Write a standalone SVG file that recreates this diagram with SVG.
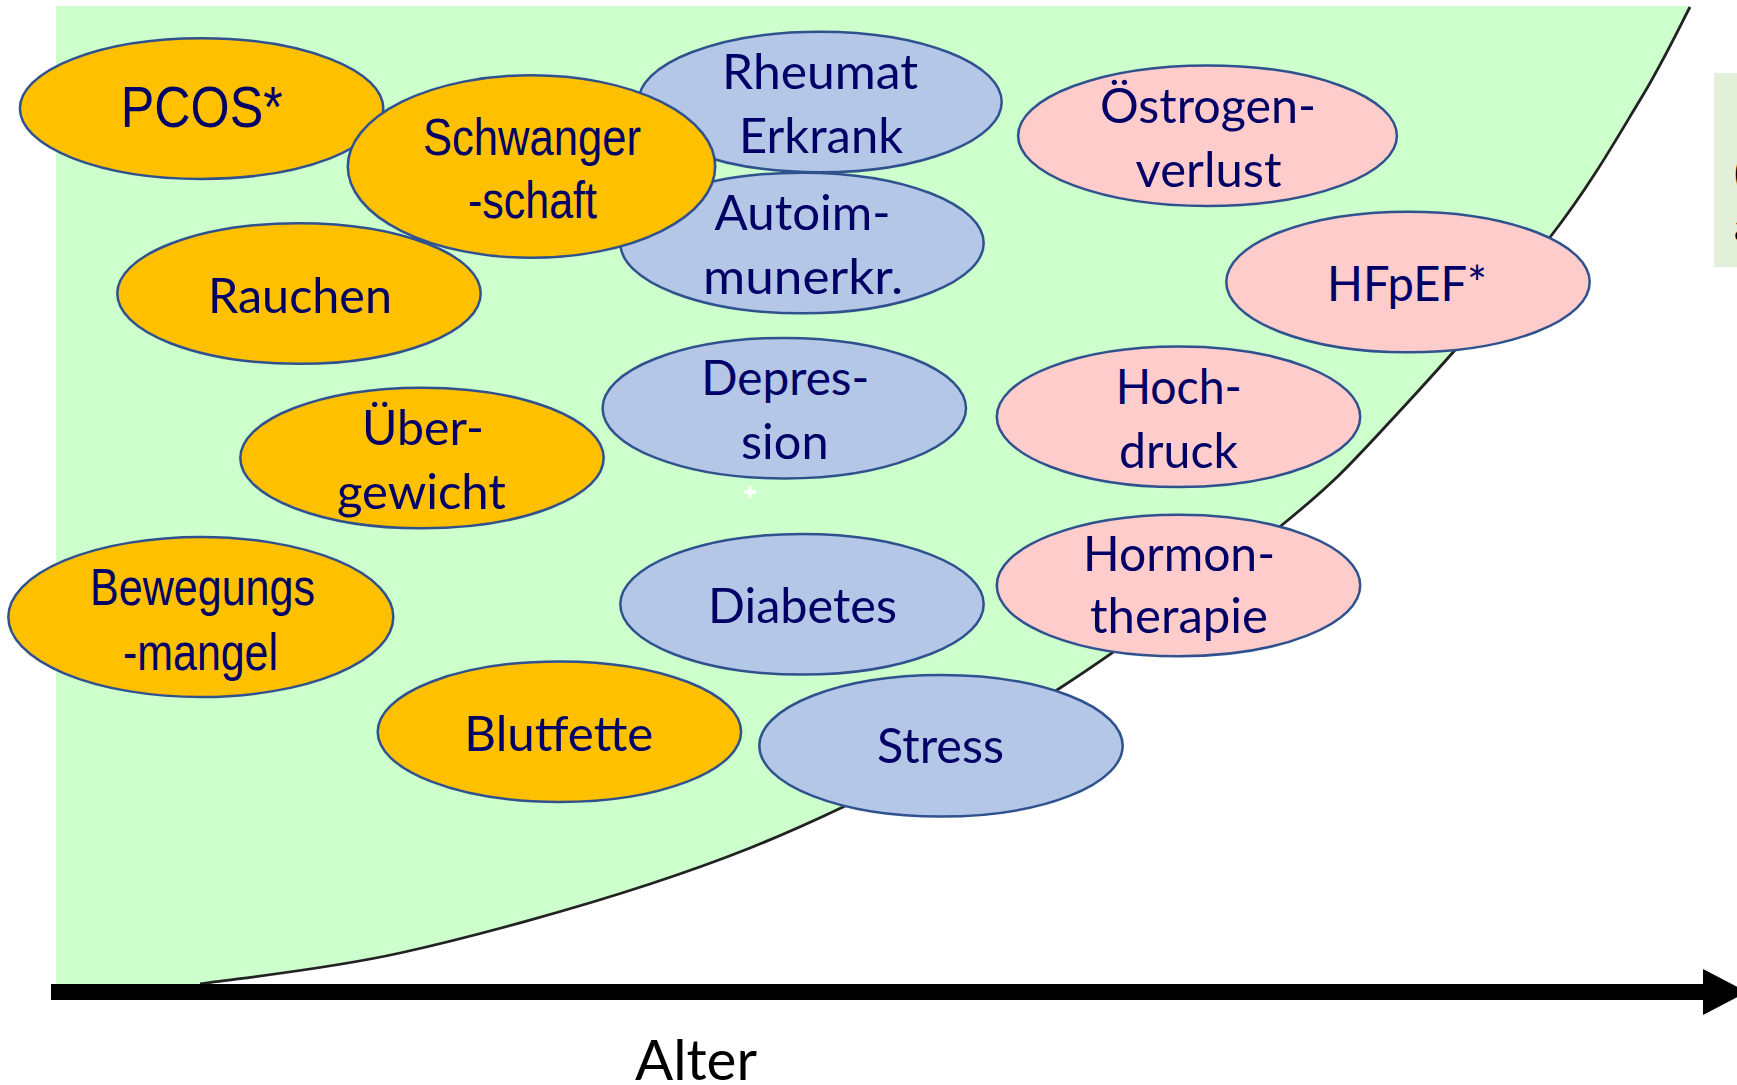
<svg xmlns="http://www.w3.org/2000/svg" width="1737" height="1085" viewBox="0 0 1737 1085">
<style>
.o{fill:#FFC000;stroke:#2F528F;stroke-width:2.5}
.b{fill:#B4C7E7;stroke:#2F528F;stroke-width:2.5}
.p{fill:#FFCCCC;stroke:#2F528F;stroke-width:2.5}
.t{font-family:Lato,"Open Sans",sans-serif;font-size:48px;fill:#000066;text-anchor:middle}
.n{font-family:"Liberation Sans",Arial,sans-serif;font-size:52px;fill:#000066;text-anchor:middle}
</style>
<defs>
<marker id="ah" markerUnits="userSpaceOnUse" markerWidth="50" markerHeight="50" refX="0" refY="25" orient="auto">
<path d="M0,2 L44,25 L0,48 Z" fill="#000"/>
</marker>
</defs>
<rect width="1737" height="1085" fill="#fff"/>
<g id="background">
<path d="M200,984 C233.3,978.8 325,969.7 400,953 C475,936.3 576.2,908.3 650,884 C723.8,859.7 775.2,839.3 843,807 C910.8,774.7 983.8,737 1057,690 C1130.2,643 1225.2,571.2 1282,525 C1338.8,478.8 1353.2,461.2 1398,413 C1442.8,364.8 1510.7,288.2 1551,236 C1591.3,183.8 1616.8,138.2 1640,100 C1663.2,61.8 1681.7,22.5 1690,7 L1690,6 L56,6 L56,985 L200,985 Z" fill="#CCFFCC"/>
<path d="M200,984 C233.3,978.8 325,969.7 400,953 C475,936.3 576.2,908.3 650,884 C723.8,859.7 775.2,839.3 843,807 C910.8,774.7 983.8,737 1057,690 C1130.2,643 1225.2,571.2 1282,525 C1338.8,478.8 1353.2,461.2 1398,413 C1442.8,364.8 1510.7,288.2 1551,236 C1591.3,183.8 1616.8,138.2 1640,100 C1663.2,61.8 1681.7,22.5 1690,7" fill="none" stroke="#222" stroke-width="2.8"/>
<path d="M744,492 H756 M750,486 V498" stroke="#fff" stroke-width="3"/>
<rect x="1714" y="73" width="30" height="194" fill="#E2F0D9"/>
<text x="1734" y="187" style="font-family:Lato,sans-serif;font-size:40px;fill:#000">(</text>
<text x="1734" y="241" style="font-family:Lato,sans-serif;font-size:40px;fill:#000">a</text>
</g>
<g id="connectors">
<line x1="51" y1="992" x2="1703" y2="992" stroke="#000" stroke-width="16" marker-end="url(#ah)"/>
</g>
<text x="696" y="1080" style="font-family:Lato,'Open Sans',sans-serif;font-size:56px;fill:#000;text-anchor:middle" textLength="122" lengthAdjust="spacingAndGlyphs">Alter</text>
<g id="pcos"><ellipse class="o" cx="201.6" cy="108.6" rx="181.7" ry="70.3"/><text class="n" x="201.8" y="127" style="font-size:58px" textLength="162" lengthAdjust="spacingAndGlyphs">PCOS*</text></g>
<g id="rheumat"><ellipse class="b" cx="820" cy="102" rx="181.7" ry="70.3"/><text class="t" x="820" y="89" textLength="196" lengthAdjust="spacingAndGlyphs">Rheumat</text><text class="t" x="821" y="153" textLength="164" lengthAdjust="spacingAndGlyphs">Erkrank</text></g>
<g id="autoim"><ellipse class="b" cx="802" cy="243" rx="181.7" ry="70.3"/><text class="t" x="802.6" y="230" textLength="176" lengthAdjust="spacingAndGlyphs">Autoim-</text><text class="t" x="803" y="294" textLength="200" lengthAdjust="spacingAndGlyphs">munerkr.</text></g>
<g id="rauchen"><ellipse class="o" cx="299" cy="293.5" rx="181.7" ry="70.3"/><text class="t" x="300" y="312.7" textLength="184" lengthAdjust="spacingAndGlyphs">Rauchen</text></g>
<g id="schwangerschaft"><ellipse class="o" cx="531.5" cy="166.5" rx="183.7" ry="91.3"/><text class="n" x="532" y="155" textLength="218" lengthAdjust="spacingAndGlyphs">Schwanger</text><text class="n" x="532.5" y="218" textLength="129" lengthAdjust="spacingAndGlyphs">-schaft</text></g>
<g id="oestrogenverlust"><ellipse class="p" cx="1207.5" cy="135.7" rx="189.4" ry="70.3"/><text class="t" x="1208" y="122.7" textLength="216" lengthAdjust="spacingAndGlyphs">Östrogen-</text><text class="t" x="1208.6" y="186.7" textLength="146" lengthAdjust="spacingAndGlyphs">verlust</text></g>
<g id="hfpef"><ellipse class="p" cx="1408" cy="282" rx="181.7" ry="70.3"/><text class="t" x="1407" y="301" textLength="160" lengthAdjust="spacingAndGlyphs">HFpEF*</text></g>
<g id="uebergewicht"><ellipse class="o" cx="422" cy="458" rx="181.7" ry="70.3"/><text class="t" x="423" y="445" textLength="122" lengthAdjust="spacingAndGlyphs">Über-</text><text class="t" x="421.4" y="509" textLength="169" lengthAdjust="spacingAndGlyphs">gewicht</text></g>
<g id="depression"><ellipse class="b" cx="784.3" cy="408.2" rx="181.7" ry="70.3"/><text class="t" x="785.3" y="395" textLength="168" lengthAdjust="spacingAndGlyphs">Depres-</text><text class="t" x="784.8" y="459" textLength="87.5" lengthAdjust="spacingAndGlyphs">sion</text></g>
<g id="hochdruck"><ellipse class="p" cx="1178.5" cy="416.8" rx="181.7" ry="70.3"/><text class="t" x="1178.7" y="404" textLength="126" lengthAdjust="spacingAndGlyphs">Hoch-</text><text class="t" x="1178.5" y="468" textLength="119" lengthAdjust="spacingAndGlyphs">druck</text></g>
<g id="bewegungsmangel"><ellipse class="o" cx="200.8" cy="617" rx="192.5" ry="80"/><text class="n" x="202.5" y="605" textLength="225" lengthAdjust="spacingAndGlyphs">Bewegungs</text><text class="n" x="200.5" y="670" textLength="155" lengthAdjust="spacingAndGlyphs">-mangel</text></g>
<g id="diabetes"><ellipse class="b" cx="802" cy="604.3" rx="181.7" ry="70.3"/><text class="t" x="802.5" y="623" textLength="189" lengthAdjust="spacingAndGlyphs">Diabetes</text></g>
<g id="hormontherapie"><ellipse class="p" cx="1178.5" cy="585.5" rx="181.7" ry="70.8"/><text class="t" x="1179" y="571" textLength="192" lengthAdjust="spacingAndGlyphs">Hormon-</text><text class="t" x="1179" y="633" textLength="178" lengthAdjust="spacingAndGlyphs">therapie</text></g>
<g id="blutfette"><ellipse class="o" cx="559.4" cy="731.7" rx="181.7" ry="70.3"/><text class="t" x="558.8" y="751" textLength="189" lengthAdjust="spacingAndGlyphs">Blutfette</text></g>
<g id="stress"><ellipse class="b" cx="941" cy="745.8" rx="181.7" ry="70.8"/><text class="t" x="940.5" y="763" textLength="127" lengthAdjust="spacingAndGlyphs">Stress</text></g>
</svg>
